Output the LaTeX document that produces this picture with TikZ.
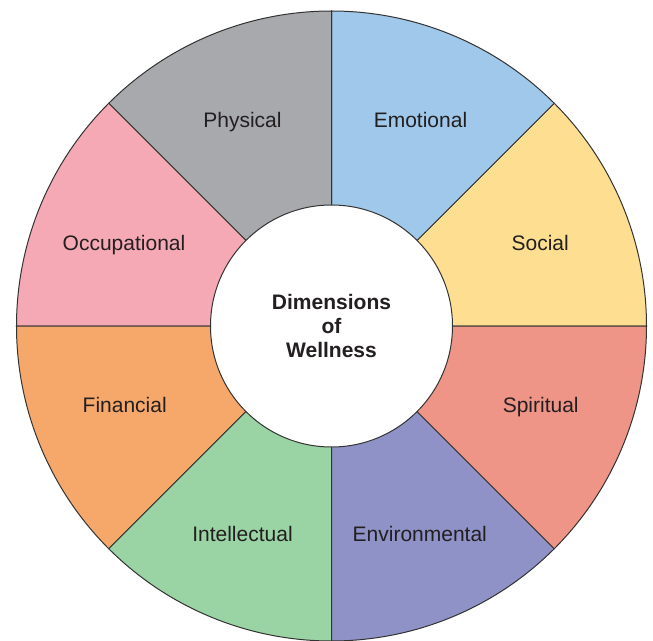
\documentclass[tikz,border=0pt]{standalone}
\usepackage{fontspec}
\setmainfont{Liberation Sans}
\definecolor{Social}{HTML}{FEDF91}
\definecolor{Emotional}{HTML}{A0C8EA}
\definecolor{Physical}{HTML}{A7A9AC}
\definecolor{Occupational}{HTML}{F5A9B4}
\definecolor{Financial}{HTML}{F6A86B}
\definecolor{Intellectual}{HTML}{9AD3A4}
\definecolor{Environmental}{HTML}{8E92C6}
\definecolor{Spiritual}{HTML}{EE9588}
\definecolor{Edge}{HTML}{333333}
\definecolor{Ink}{HTML}{231F20}

\begin{document}
\begin{tikzpicture}[x=1pt, y=1pt,
  wedge/.style={draw=Edge, line width=1pt},
  lbl/.style={text=Ink, inner sep=0pt, anchor=base, font=\fontsize{21}{24}\selectfont},
  hub/.style={circle, draw=Edge, fill=white, line width=1pt, minimum size=242pt, align=center, text=Ink, font=\fontsize{21}{24}\selectfont\bfseries} ]

\useasboundingbox (-331.5,-314) rectangle (321.5,326);

% wheel
\foreach \dim/\a in {Social/0, Emotional/45, Physical/90, Occupational/135, Financial/180, Intellectual/225, Environmental/270, Spiritual/315}
  \filldraw[wedge, fill=\dim] (0,0) -- (\a:315) arc[start angle=\a, delta angle=45, radius=315] -- cycle;

% labels
\foreach \dim/\x/\y in {Physical/-89/198.7, Emotional/89/198.7, Occupational/-207.5/75.5, Social/208.7/75.5, Financial/-206.8/-86.5, Spiritual/209.2/-86.5, Intellectual/-89/-215, Environmental/88.3/-215}
  \node[lbl] (\dim) at (\x,\y) {\dim};

\node[hub] (hub) at (0,0) {Dimensions\\of\\Wellness};

\end{tikzpicture}
\end{document}
